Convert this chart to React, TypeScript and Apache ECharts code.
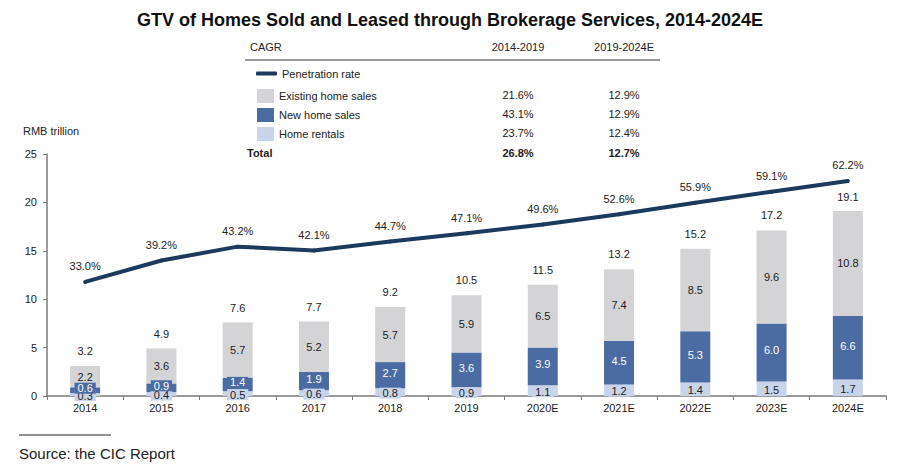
import React, { useEffect, useRef } from "react";
import * as echarts from "echarts";

const categories = ["2014", "2015", "2016", "2017", "2018", "2019", "2020E", "2021E", "2022E", "2023E", "2024E"];
const homeRentals = [0.3, 0.4, 0.5, 0.6, 0.8, 0.9, 1.1, 1.2, 1.4, 1.5, 1.7];
const newHomeSales = [0.6, 0.9, 1.4, 1.9, 2.7, 3.6, 3.9, 4.5, 5.3, 6.0, 6.6];
const existingHomeSales = [2.2, 3.6, 5.7, 5.2, 5.7, 5.9, 6.5, 7.4, 8.5, 9.6, 10.8];
const totals = [3.2, 4.9, 7.6, 7.7, 9.2, 10.5, 11.5, 13.2, 15.2, 17.2, 19.1];
const penetrationRate = [33.0, 39.2, 43.2, 42.1, 44.7, 47.1, 49.6, 52.6, 55.9, 59.1, 62.2];
const yTicks = [0, 5, 10, 15, 20, 25];

const cagrHeaders = ["CAGR", "2014-2019", "2019-2024E"];
const cagrRows = [
  ["Existing home sales", "21.6%", "12.9%"],
  ["New home sales", "43.1%", "12.9%"],
  ["Home rentals", "23.7%", "12.4%"],
];
const cagrTotal = ["Total", "26.8%", "12.7%"];

const C_EXIST = "#d4d4d6";
const C_NEW = "#4a6ca3";
const C_RENT = "#c8d4ea";
const C_LINE = "#1b3a5e";
const FONT = "Liberation Sans, Arial, sans-serif";
const TXT = "#222";

export default function App() {
  const ref = useRef<HTMLDivElement>(null);
  useEffect(() => {
    document.body.style.margin = "0";
    const chart = echarts.init(ref.current!, null, { renderer: "svg" });
    const col1 = 518;
    const col2 = 624;
    const rowsY = [95, 114, 133];
    const graphic: any[] = [
      { type: "text", left: 23, top: 125, style: { text: "RMB trillion", font: `11px ${FONT}`, fill: TXT } },
      { type: "text", x: 250, y: 47, style: { text: cagrHeaders[0], font: `11px ${FONT}`, fill: TXT, verticalAlign: "middle" } },
      { type: "text", x: col1, y: 47, style: { text: cagrHeaders[1], font: `11px ${FONT}`, fill: TXT, align: "center", verticalAlign: "middle" } },
      { type: "text", x: col2, y: 47, style: { text: cagrHeaders[2], font: `11px ${FONT}`, fill: TXT, align: "center", verticalAlign: "middle" } },
      { type: "line", shape: { x1: 245, y1: 60, x2: 660, y2: 60 }, style: { stroke: "#9a9a9a", lineWidth: 2 } },
      { type: "line", shape: { x1: 19, y1: 435, x2: 111, y2: 435 }, style: { stroke: "#222", lineWidth: 1 } },
      { type: "text", x: 19, y: 453, style: { text: "Source: the CIC Report", font: `15px ${FONT}`, fill: TXT, verticalAlign: "middle" } },
      { type: "text", x: 247, y: 153, style: { text: cagrTotal[0], font: `bold 11px ${FONT}`, fill: TXT, verticalAlign: "middle" } },
      { type: "text", x: col1, y: 153, style: { text: cagrTotal[1], font: `bold 11px ${FONT}`, fill: TXT, align: "center", verticalAlign: "middle" } },
      { type: "text", x: col2, y: 153, style: { text: cagrTotal[2], font: `bold 11px ${FONT}`, fill: TXT, align: "center", verticalAlign: "middle" } },
    ];
    cagrRows.forEach((r, i) => {
      graphic.push({ type: "text", x: col1, y: rowsY[i], style: { text: r[1], font: `11px ${FONT}`, fill: TXT, align: "center", verticalAlign: "middle" } });
      graphic.push({ type: "text", x: col2, y: rowsY[i], style: { text: r[2], font: `11px ${FONT}`, fill: TXT, align: "center", verticalAlign: "middle" } });
    });

    const barLabel = (color: string, bg: string, dy: number) => ({
      show: true,
      position: "inside",
      color,
      fontSize: 11,
      fontFamily: FONT,
      backgroundColor: bg,
      padding: [0, 3],
      offset: [0, dy],
      formatter: (p: any) => p.value.toFixed(1),
    });

    chart.setOption({
      animation: false,
      backgroundColor: "#fff",
      textStyle: { fontFamily: FONT },
      title: {
        text: "GTV of Homes Sold and Leased through Brokerage Services, 2014-2024E",
        left: "center",
        top: 6,
        textStyle: { fontSize: 18, fontWeight: "bold", color: "#111", fontFamily: FONT },
      },
      legend: [
        {
          data: [{ name: "Penetration rate", icon: "roundRect" }],
          left: 251,
          top: 63,
          itemWidth: 21,
          itemHeight: 4,
          itemGap: 5,
          textStyle: { fontSize: 11, color: TXT, fontFamily: FONT },
          selectedMode: false,
        },
        {
          data: [
            { name: "Existing home sales", icon: "rect" },
            { name: "New home sales", icon: "rect" },
            { name: "Home rentals", icon: "rect" },
          ],
          orient: "vertical",
          left: 252,
          top: 84,
          itemWidth: 17,
          itemHeight: 14,
          itemGap: 5,
          textStyle: { fontSize: 11, color: TXT, fontFamily: FONT },
          selectedMode: false,
        },
      ],
      graphic,
      grid: { left: 47, right: 14, top: 154, bottom: 74 },
      xAxis: {
        type: "category",
        data: categories,
        boundaryGap: true,
        axisLine: { lineStyle: { color: "#7a7a7a", width: 1.5 } },
        axisTick: { show: true, length: 4, lineStyle: { color: "#7a7a7a" } },
        axisLabel: { color: TXT, fontSize: 11, margin: 6, fontFamily: FONT },
      },
      yAxis: [
        {
          type: "value",
          min: yTicks[0],
          max: yTicks[yTicks.length - 1],
          interval: 5,
          splitLine: { show: false },
          axisLine: { show: true, lineStyle: { color: "#7a7a7a", width: 1.5 } },
          axisTick: { show: true, length: 4, lineStyle: { color: "#7a7a7a" } },
          axisLabel: { color: TXT, fontSize: 11, margin: 10, fontFamily: FONT },
        },
        { type: "value", min: 0, max: 70, show: false, splitLine: { show: false } },
      ],
      series: [
        {
          name: "Home rentals",
          type: "bar",
          stack: "gtv",
          barWidth: 30,
          data: homeRentals,
          itemStyle: { color: C_RENT },
          label: barLabel(TXT, C_RENT, 1),
        },
        {
          name: "New home sales",
          type: "bar",
          stack: "gtv",
          barWidth: 30,
          data: newHomeSales,
          itemStyle: { color: C_NEW },
          label: { ...barLabel("#fff", C_NEW, -2) },
        },
        {
          name: "Existing home sales",
          type: "bar",
          stack: "gtv",
          barWidth: 30,
          data: existingHomeSales,
          itemStyle: { color: C_EXIST },
          label: barLabel(TXT, "transparent", 0),
        },
        {
          name: "Total",
          type: "scatter",
          data: totals,
          symbolSize: 0,
          silent: true,
          itemStyle: { opacity: 1 },
          label: {
            show: true,
            position: "top",
            distance: 9,
            color: TXT,
            fontSize: 11,
            fontFamily: FONT,
            formatter: (p: any) => p.value.toFixed(1),
          },
        },
        {
          name: "Penetration rate",
          type: "line",
          yAxisIndex: 1,
          data: penetrationRate,
          symbol: "circle",
          symbolSize: 4,
          showSymbol: true,
          lineStyle: { color: C_LINE, width: 4 },
          itemStyle: { color: C_LINE },
          label: {
            show: true,
            position: "top",
            distance: 8,
            color: TXT,
            fontSize: 11,
            fontFamily: FONT,
            formatter: (p: any) => p.value.toFixed(1) + "%",
          },
        },
      ],
    });
    return () => chart.dispose();
  }, []);
  return <div ref={ref} style={{ width: 900, height: 470, position: "absolute", left: 0, top: 0 }} />;
}
